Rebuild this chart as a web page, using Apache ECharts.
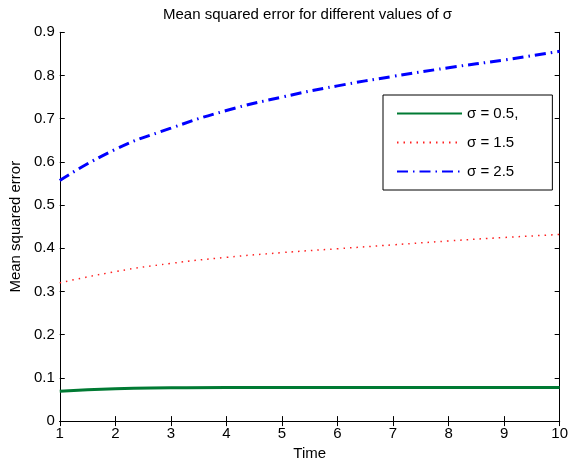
<!DOCTYPE html>
<html><head><meta charset="utf-8">
<script src="https://cdn.jsdelivr.net/npm/echarts@6/dist/echarts.min.js"></script>
<style>html,body{margin:0;padding:0;background:#fff}#c{width:571px;height:466px}</style>
</head><body><div id="c"></div>
<script>
const times = [1,2,3,4,5,6,7,8,9,10];
const sigma05 = [0.069,0.075,0.077,0.078,0.078,0.078,0.078,0.078,0.078,0.078];
const sigma15 = [0.320,0.346,0.365,0.379,0.390,0.399,0.408,0.417,0.425,0.432];
const sigma25 = [0.557,0.629,0.678,0.719,0.750,0.776,0.798,0.818,0.836,0.856];
const seriesNames = ['σ = 0.5,','σ = 1.5','σ = 2.5'];
const titleText = 'Mean squared error for different values of σ';

const font = 'Liberation Sans, Arial, Helvetica, sans-serif';
const fs = 15;
const chart = echarts.init(document.getElementById('c'), null, {renderer:'canvas'});
const pair = (ys) => times.map((t,i)=>[t, ys[i]]);
const axisCommon = {
  axisLine:{show:true,lineStyle:{color:'#000',width:1}},
  axisTick:{show:true,inside:true,length:5,lineStyle:{color:'#000'}},
  splitLine:{show:false}
};
chart.setOption({
  animation:false,
  backgroundColor:'#fff',
  title:{text:titleText,left:158,top:2,textStyle:{fontFamily:font,fontSize:fs,fontWeight:'normal',color:'#000'}},
  grid:{left:58.5,right:10,top:32.3,bottom:37.7,containLabel:false},
  legend:{
    orient:'vertical',left:383,top:95,
    padding:[11,34,11,13],itemGap:14,itemWidth:65,itemHeight:14,
    borderColor:'#000',borderWidth:1,backgroundColor:'#fff',
    itemStyle:{opacity:0},
    textStyle:{fontFamily:font,fontSize:fs,color:'#000'},
    data:seriesNames
  },
  xAxis:[
    Object.assign({type:'value',min:1,max:10,interval:1,position:'bottom',
      name:'Time',nameLocation:'middle',nameGap:22,
      nameTextStyle:{fontFamily:font,fontSize:fs,color:'#000'},
      axisLabel:{fontFamily:font,fontSize:fs,color:'#000',margin:5}},axisCommon),
    Object.assign({type:'value',min:1,max:10,interval:1,position:'top',axisLabel:{show:false}},axisCommon)
  ],
  yAxis:[
    Object.assign({type:'value',min:0,max:0.9,interval:0.1,position:'left',
      name:'Mean squared error',nameLocation:'middle',nameGap:34,
      nameTextStyle:{fontFamily:font,fontSize:fs,color:'#000'},
      axisLabel:{fontFamily:font,fontSize:fs,color:'#000',margin:5}},axisCommon),
    Object.assign({type:'value',min:0,max:0.9,interval:0.1,position:'right',axisLabel:{show:false}},axisCommon)
  ],
  series:[
    {name:seriesNames[0],type:'line',data:pair(sigma05),smooth:true,symbol:'none',
     lineStyle:{color:'#007a33',width:3,type:'solid'},itemStyle:{color:'#007a33'}},
    {name:seriesNames[1],type:'line',data:pair(sigma15),smooth:true,symbol:'none',
     lineStyle:{color:'#ff2020',width:1.5,type:[1.5,5]},itemStyle:{color:'#ff2020'}},
    {name:seriesNames[2],type:'line',data:pair(sigma25),smooth:true,symbol:'none',
     lineStyle:{color:'#0000ff',width:3,type:[11,5,1.5,5]},itemStyle:{color:'#0000ff'}}
  ]
});
</script></body></html>
